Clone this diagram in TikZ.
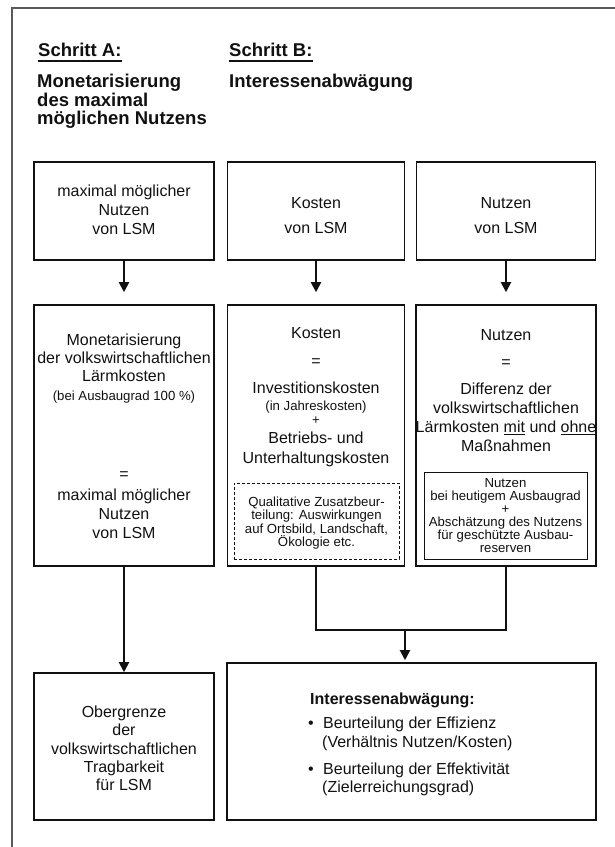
\documentclass[tikz,border=0pt]{standalone}
\usepackage{fontspec}
\setmainfont{Liberation Sans}
\usepackage{xcolor}
\usetikzlibrary{arrows.meta}
\definecolor{Ink}{HTML}{111111}
\definecolor{FrameGray}{HTML}{5A5A5A}

\newcommand\normtxt{\fontsize{16}{19}\selectfont\lineskiplimit=-50pt}
\newcommand\smalltxt{\fontsize{13.2}{13.3}\selectfont\lineskiplimit=-50pt}
\newcommand\tighttxt{\fontsize{13.2}{13}\selectfont\lineskiplimit=-50pt}
\newcommand\headtxt{\fontsize{18.5}{18.5}\selectfont\bfseries\lineskiplimit=-50pt}

\begin{document}
\begin{tikzpicture}[x=1pt,y=-1pt,every node/.style={text=Ink,inner sep=0pt},
  box/.style={draw=Ink,line width=1.6pt},
  inbox/.style={draw=Ink,line width=0.8pt},
  dashbox/.style={draw=Ink,line width=0.7pt,dash pattern=on 3pt off 2pt},
  txt/.style={font=\normtxt,align=center},
  note/.style={font=\smalltxt,align=center},
  head/.style={font=\headtxt,align=left},
  wire/.style={draw=Ink,line width=2pt},
  arr/.style={wire,-{Triangle[width=10pt,length=10pt]}}]
\useasboundingbox (0,0) rectangle (615,847);
\draw[FrameGray,line width=1.2pt] (615,8) -- (12,8) -- (12,847);

% headings
\node[head,anchor=base west] (stepA) at (38,56.5) {Schritt A:};
\node[head,anchor=base west] (stepB) at (229,56.5) {Schritt B:};
\draw[Ink,line width=2.2pt] ([yshift=-4.5pt]stepA.base west) -- ([yshift=-4.5pt]stepA.base east);
\draw[Ink,line width=2.2pt] ([yshift=-4.5pt]stepB.base west) -- ([yshift=-4.5pt]stepB.base east);
\node[head,anchor=west] (goalA) at (37,101.5) {Monetarisierung\\des maximal\\möglichen Nutzens};
\node[head,anchor=west] (goalB) at (229,83) {Interessenabwägung};

% top row
\node[box,minimum width=180,minimum height=98] (topA) at (124,211) {};
\node[box,minimum width=177,minimum height=98] (topB) at (316,211) {};
\node[box,minimum width=179,minimum height=98] (topC) at (506,211) {};
\node[txt] (topAtxt) at (124,210) {maximal möglicher\\Nutzen\\von LSM};
\node[txt] (topBtxt) at (316,215.5) {Kosten\\[6pt]von LSM};
\node[txt] (topCtxt) at (506,215.5) {Nutzen\\[6pt]von LSM};

% middle row
\node[box,minimum width=180,minimum height=261] (monA) at (124,435.5) {};
\node[box,minimum width=177,minimum height=261] (costB) at (316,435.5) {};
\node[box,minimum width=180,minimum height=261] (benC) at (506,435.5) {};
\node[txt] (monAtxt) at (124,436.5) {Monetarisierung\\[-1pt]der volkswirtschaftlichen\\[-1pt]Lärmkosten\\
  {\smalltxt (bei Ausbaugrad 100 \%)}\\[60pt]=\\[2pt]maximal möglicher\\Nutzen\\von LSM};
\node[txt] (costBtxt) at (316,397) {Kosten\\[9pt]=\\[8pt]Investitionskosten\\[-2pt]
  {\smalltxt (in Jahreskosten)}\\[-5pt]{\smalltxt +}\\[0pt]Betriebs- und\\[1pt]Unterhaltungskosten};
\node[txt] (benCtxt) at (506,391) {Nutzen\\[8pt]=\\[8pt]Differenz der\\volkswirtschaftlichen\\
  Lärmkosten \underline{mit} und \underline{ohne}\\Maßnahmen};
\node[dashbox,minimum width=165,minimum height=76] (qual) at (316.5,521) {};
\node[note] (qualtxt) at (316.5,523) {Qualitative Zusatzbeur-\\teilung: Auswirkungen\\auf Ortsbild, Landschaft,\\Ökologie etc.};
\node[inbox,minimum width=163,minimum height=87] (extra) at (505.5,515.5) {};
\node[note,font=\tighttxt] (extratxt) at (505.5,515.5)
  {Nutzen\\bei heutigem Ausbaugrad\\{+}\\Abschätzung des Nutzens\\für geschützte Ausbau-\\reserven};

% bottom row
\node[box,minimum width=180,minimum height=147] (limitA) at (124,746.5) {};
\node[box,minimum width=369,minimum height=157] (weigh) at (411.5,741.5) {};
\node[txt,font=\fontsize{16}{18.3}\selectfont] (limitAtxt) at (124,748.5)
  {Obergrenze\\der\\volkswirtschaftlichen\\Tragbarkeit\\für LSM};
\node[txt,align=left,anchor=west] (weightxt) at (308,744.5)
  {\hspace*{2pt}\textbf{Interessenabwägung:}\\[5pt]
   \makebox[15pt][l]{•}Beurteilung der Effizienz\\
   \hspace*{14pt}(Verhältnis Nutzen/Kosten)\\[8pt]
   \makebox[15pt][l]{•}Beurteilung der Effektivität\\[-1pt]
   \hspace*{14pt}(Zielerreichungsgrad)};

% connectors
\draw[arr,shorten >=12pt] (topA) -- (monA);
\draw[arr,shorten >=12pt] (topB) -- (costB);
\draw[arr,shorten >=12pt] (topC) -- (benC);
\draw[arr] (monA) -- (limitA);
\coordinate (join) at (405,630);
\draw[wire] (costB) |- (join) -| (benC);
\draw[arr,shorten >=2pt] (join) -- (join |- weigh.north);
\end{tikzpicture}
\end{document}
